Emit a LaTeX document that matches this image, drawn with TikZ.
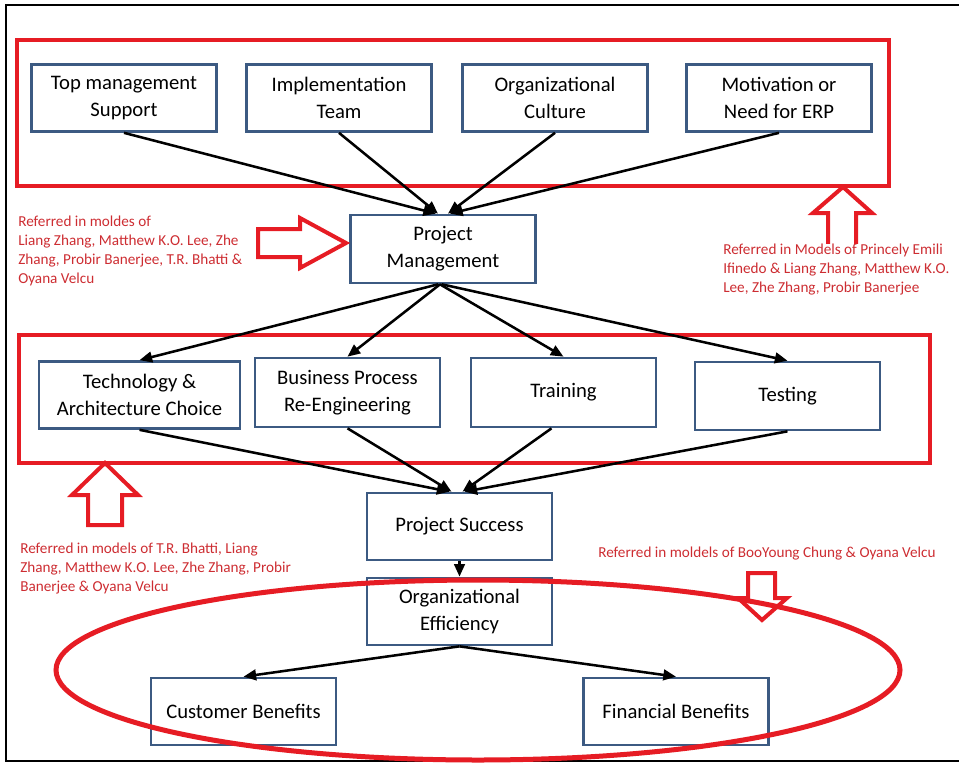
\documentclass[tikz,border=0pt]{standalone}
\usepackage{fontspec}
\setmainfont{Carlito}
\usetikzlibrary{arrows.meta,calc}
\definecolor{boxblue}{RGB}{60,90,130}
\definecolor{markred}{RGB}{230,28,36}
\definecolor{notered}{RGB}{205,45,50}

\begin{document}
\begin{tikzpicture}[x=0.75pt,y=-0.75pt,
  box/.style={draw=boxblue, fill=white, line width=2pt, inner sep=0pt,
    minimum width={185*0.75pt}, minimum height={67*0.75pt}, align=center,
    font=\fontsize{15.5}{20.3}\selectfont},
  link/.style={draw=black, line width=1.9pt, -{Triangle[length=9.5pt,width=8pt]}},
  groupframe/.style={draw=markred, line width=3pt},
  hollow/.style={draw=markred, line width=3pt, line join=miter},
  note/.style={text=notered, align=left, inner sep=0pt, anchor=north west,
    font=\fontsize{11.4}{14.25}\selectfont}]

\useasboundingbox (0,0) rectangle (959,763);

% outer border
\draw[line width=2.2pt] (959,5) -- (6,5) -- (6,761) -- (959,761);

% red group frames
\draw[groupframe] (17,40) rectangle (889,186);
\draw[groupframe] (19,335) rectangle (930,463);

% factor boxes
\node[box] (tm) at (124,98) {Top management\\Support};
\node[box] (it) at (339,98) {Implementation\\Team};
\node[box] (oc) at (555,98) {Organizational\\Culture};
\node[box] (mo) at (779,98) {Motivation or\\Need for ERP};
\node[box, minimum height={68*0.75pt}] (pm) at (443,249) {Project\\Management};
\node[box, minimum width={201*0.75pt}] (tech) at (139.5,395) {Technology \&\\Architecture Choice};
\node[box, minimum height={69*0.75pt}] (bpr) at (347.5,392.5) {Business Process\\Re-Engineering};
\node[box, minimum height={69*0.75pt}] (trn) at (563.5,392.5) {Training};
\node[box, minimum height={68*0.75pt}] (tst) at (787.5,396) {Testing};
\node[box] (ps) at (459.5,526.5) {Project Success};
\node[box] (oe) at (459.5,611.5) {Organizational\\Efficiency};
\node[box] (cb) at (243.5,711.5) {Customer Benefits};
\node[box] (fb) at (676,711.5) {Financial Benefits};

% connectors
\draw[link] (tm.south) -- ($(pm.north)+(-7,0)$);
\draw[link] (it.south) -- ($(pm.north)+(-5,0)$);
\draw[link] (oc.south) -- ($(pm.north)+(5,0)$);
\draw[link] (mo.south) -- ($(pm.north)+(7,0)$);
\draw[link] ($(pm.south)+(-5,0)$) -- (tech.north);
\draw[link] ($(pm.south)+(-3,0)$) -- (bpr.north);
\draw[link] ($(pm.south)+(-3,0)$) -- (trn.north);
\draw[link] ($(pm.south)+(-1,0)$) -- (tst.north);
\draw[link] (tech.south) -- ($(ps.north)+(-10,0)$);
\draw[link] (bpr.south) -- ($(ps.north)+(-8,0)$);
\draw[link] ($(trn.south)+(-12,0)$) -- ($(ps.north)+(3,0)$);
\draw[link] (tst.south) -- ($(ps.north)+(5,0)$);
\draw[link] (ps.south) -- (oe.north);
\draw[link] (oe.south) -- (cb.north);
\draw[link] (oe.south) -- (fb.north);

% hollow pointer arrows
\draw[hollow] (258,229) -- (300,229) -- (300,218) -- (346,243) -- (300,268) -- (300,257) -- (258,257) -- cycle;
\draw[hollow] (828,252) -- (828,213) -- (813,213) -- (843,187) -- (872,213) -- (856,213) -- (856,252) -- cycle;
\draw[hollow] (88,525) -- (88,495) -- (72,495) -- (105,463) -- (138,495) -- (122,495) -- (122,525) -- cycle;
\draw[hollow] (748,573) -- (775,573) -- (775,598) -- (787,598) -- (762,620) -- (738,598) -- (748,598) -- cycle;

% notes
\node[note] (n1) at (18,216) {Referred in moldes of\\Liang Zhang, Matthew K.O. Lee, Zhe\\Zhang, Probir Banerjee, T.R. Bhatti \&\\Oyana Velcu};
\node[note, fill=white] (n2) at (723,244) {Referred in Models of Princely Emili\\Ifinedo \& Liang Zhang, Matthew K.O.\\Lee, Zhe Zhang, Probir Banerjee};
\node[note] (n3) at (20,543) {Referred in models of T.R. Bhatti, Liang\\Zhang, Matthew K.O. Lee, Zhe Zhang, Probir\\Banerjee \& Oyana Velcu};
\node[note] (n4) at (598,547) {Referred in moldels of BooYoung Chung \& Oyana Velcu};

% outcome ellipse
\draw[markred, line width=3.75pt] (478,670) ellipse [x radius=422, y radius=90];
\end{tikzpicture}
\end{document}
